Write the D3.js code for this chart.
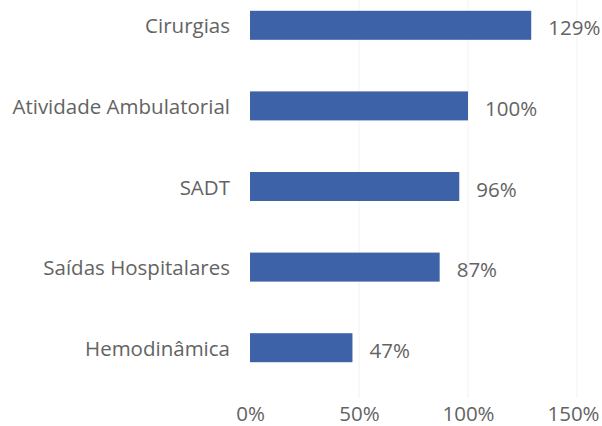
<!DOCTYPE html>
<html>
<head>
<meta charset="utf-8">
<script src="https://cdn.jsdelivr.net/npm/d3@7"></script>
<style>
  body { margin: 0; background: #fff; }
  svg { display: block; }
  text { font-family: "Open Sans", sans-serif; fill: #636363; }
</style>
</head>
<body>
<div id="chart"></div>
<script>
// categories, top to bottom
var categories = ["Cirurgias", "Atividade Ambulatorial", "SADT", "Saídas Hospitalares", "Hemodinâmica"];
// percent of target reached
var values = [129, 100, 96, 87, 47];
// x axis ticks
var tickValues = [0, 50, 100, 150];

var width = 602, height = 426;
var fontSize = "20.5px";

var svg = d3.select("#chart").append("svg")
  .attr("width", width)
  .attr("height", height);

var x = d3.scaleLinear().domain([0, 150]).range([250, 577]);

var y = d3.scaleBand()
  .domain(categories)
  .range([-15, 388])
  .paddingInner(0.64)
  .paddingOuter(0.32);

// faint vertical gridlines
svg.append("g").selectAll("line")
  .data(tickValues.slice(1))
  .join("line")
  .attr("x1", function (d) { return x(d); })
  .attr("x2", function (d) { return x(d); })
  .attr("y1", 0)
  .attr("y2", 398)
  .attr("stroke", "#f2f2f2")
  .attr("stroke-width", 1);

// bars
svg.append("g").selectAll("rect")
  .data(values)
  .join("rect")
  .attr("x", x(0))
  .attr("y", function (d, i) { return y(categories[i]); })
  .attr("width", function (d) { return x(d) - x(0); })
  .attr("height", y.bandwidth())
  .attr("fill", "#3d62a8");

// category labels
svg.append("g").selectAll("text")
  .data(categories)
  .join("text")
  .attr("x", x(0) - 20)
  .attr("y", function (d) { return y(d) + y.bandwidth() / 2 + 8; })
  .attr("text-anchor", "end")
  .style("font-size", fontSize)
  .text(function (d) { return d; });

// value labels
svg.append("g").selectAll("text")
  .data(values)
  .join("text")
  .attr("x", function (d) { return x(d) + 17; })
  .attr("y", function (d, i) { return y(categories[i]) + y.bandwidth() / 2 + 10; })
  .style("font-size", fontSize)
  .text(function (d) { return d + "%"; });

// x axis tick labels (no axis line)
var xAxis = d3.axisBottom(x)
  .tickValues(tickValues)
  .tickSize(0)
  .tickPadding(0)
  .tickFormat(function (d) { return d + "%"; });

var ax = svg.append("g")
  .attr("transform", "translate(0,421)")
  .call(xAxis);
ax.select(".domain").remove();
ax.selectAll("text")
  .attr("dy", 0)
  .attr("dx", function (d) { return d === 150 ? -4 : 0; })
  .style("font-size", fontSize)
  .style("font-family", "'Open Sans', sans-serif")
  .attr("fill", "#636363");
</script>
</body>
</html>
